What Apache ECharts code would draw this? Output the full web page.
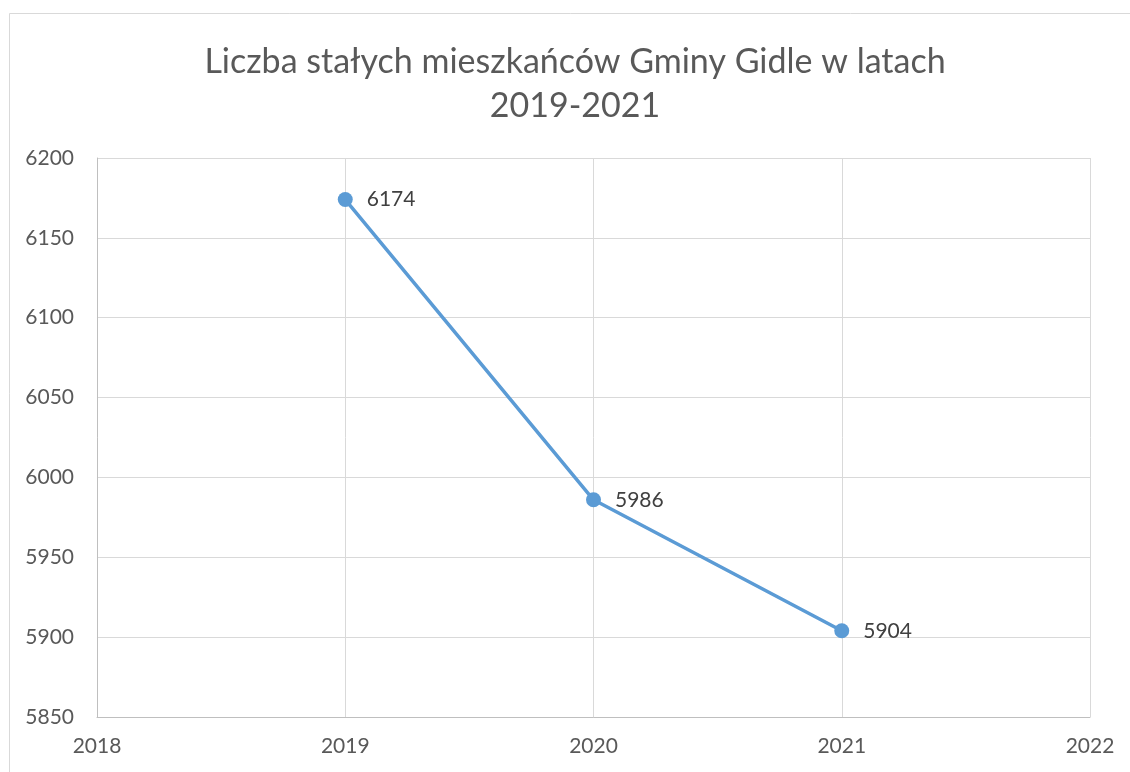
<!DOCTYPE html>
<html><head><meta charset="utf-8">
<script src="https://cdn.jsdelivr.net/npm/echarts@6/dist/echarts.min.js"></script>
<style>html,body{margin:0;padding:0;background:#fff}#c{width:1130px;height:772px}</style>
</head><body><div id="c"></div>
<script>
const titleLines = ['Liczba stałych mieszkańców Gminy Gidle w latach', '2019-2021'];
const years = [2019, 2020, 2021];
const residents = [6174, 5986, 5904];
const yMin = 5850, yMax = 6200, yStep = 50;
const xMin = 2018, xMax = 2022, xStep = 1;

const chart = echarts.init(document.getElementById('c'));
const font = 'Lato, "Open Sans", sans-serif';
chart.setOption({
  animation: false,
  backgroundColor: '#fff',
  graphic: [{
    type: 'rect', shape: {x: 9.5, y: 13.5, width: 1200, height: 800},
    style: {fill: 'none', stroke: '#d9d9d9', lineWidth: 1}, silent: true
  }],
  title: {
    text: titleLines.join('\n'), left: 575, top: 40, textAlign: 'center',
    padding: 0,
    textStyle: {fontFamily: font, fontSize: 34, fontWeight: 'normal', color: '#595959', lineHeight: 44}
  },
  grid: {left: 97, right: 40, top: 158, bottom: 55},
  xAxis: {
    type: 'value', min: xMin, max: xMax, interval: xStep,
    axisLine: {show: true, lineStyle: {color: '#bfbfbf'}},
    axisTick: {show: false},
    splitLine: {show: true, lineStyle: {color: '#d9d9d9'}},
    axisLabel: {fontFamily: font, fontSize: 21, color: '#595959', margin: 19, formatter: v => String(v)}
  },
  yAxis: {
    type: 'value', min: yMin, max: yMax, interval: yStep,
    axisLine: {show: true, lineStyle: {color: '#bfbfbf'}},
    axisTick: {show: false},
    splitLine: {show: true, lineStyle: {color: '#d9d9d9'}},
    axisLabel: {fontFamily: font, fontSize: 21, color: '#595959', margin: 23, formatter: v => String(v)}
  },
  series: [{
    type: 'line',
    data: years.map((y, i) => [y, residents[i]]),
    symbol: 'circle', symbolSize: 15,
    lineStyle: {color: '#5b9bd5', width: 3.5},
    itemStyle: {color: '#5b9bd5'},
    label: {show: true, position: 'right', distance: 14, formatter: p => String(p.value[1]),
      fontFamily: font, fontSize: 21, color: '#404040'}
  }]
});
</script></body></html>
